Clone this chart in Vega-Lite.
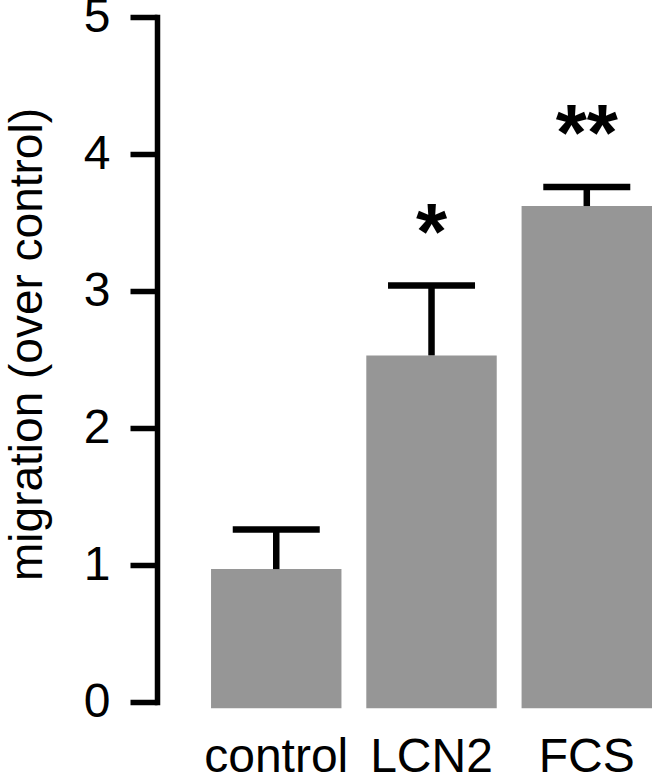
{
  "$schema": "https://vega.github.io/schema/vega-lite/v6.json",
  "autosize": "none",
  "padding": {"left": 157, "top": 17, "right": 0, "bottom": 72},
  "width": 495,
  "height": 685,
  "background": "white",
  "config": {"view": {"stroke": null}, "font": "Liberation Sans"},
  "data": {"values": [
    {"group": "control", "mean": 0.97, "upper": 1.26, "sig": ""},
    {"group": "LCN2", "mean": 2.53, "upper": 3.04, "sig": "*"},
    {"group": "FCS", "mean": 3.62, "upper": 3.76, "sig": "**"}
  ]},
  "encoding": {
    "x": {
      "field": "group", "type": "nominal", "sort": null,
      "scale": {"paddingInner": 0.16, "paddingOuter": 0.174, "align": 1},
      "axis": {"title": null, "domain": false, "ticks": false, "tickSize": 0, "labelAngle": 0,
               "labelFontSize": 48, "labelColor": "black", "labelPadding": 31, "labelFont": "Liberation Sans"}
    }
  },
  "layer": [
    {
      "mark": {"type": "bar", "color": "#969696"},
      "encoding": {
        "y": {
          "field": "mean", "type": "quantitative",
          "scale": {"domain": [0, 5], "nice": false, "zero": false},
          "axis": {
            "title": "migration (over control)", "values": [0, 1, 2, 3, 4, 5], "format": "d", "grid": false,
            "domainColor": "black", "domainWidth": 5.5, "domainCap": "square",
            "tickColor": "black", "tickWidth": 5.5, "tickSize": 27,
            "labelFontSize": 48, "labelColor": "black", "labelPadding": 20, "labelFont": "Liberation Sans",
            "titleFontSize": 46, "titleFontWeight": "normal", "titleColor": "black", "titleFont": "Liberation Sans",
            "titleBaseline": "alphabetic", "titleAngle": 270, "titleAlign": "center",
            "titleX": -116, "titleY": 327
          }
        },
        "y2": {"datum": -0.045}
      }
    },
    {
      "mark": {"type": "rule", "color": "black", "strokeWidth": 6.5},
      "encoding": {
        "y": {"field": "mean", "type": "quantitative"},
        "y2": {"field": "upper"}
      }
    },
    {
      "mark": {"type": "tick", "color": "black", "opacity": 1, "thickness": 6.5, "size": 87, "orient": "horizontal"},
      "encoding": {
        "y": {"field": "upper", "type": "quantitative"}
      }
    },
    {
      "mark": {"type": "text", "color": "black", "fontSize": 80, "fontWeight": "bold", "baseline": "alphabetic", "align": "center", "dy": -27, "font": "Liberation Sans"},
      "encoding": {
        "y": {"field": "upper", "type": "quantitative"},
        "text": {"field": "sig"}
      }
    }
  ]
}
